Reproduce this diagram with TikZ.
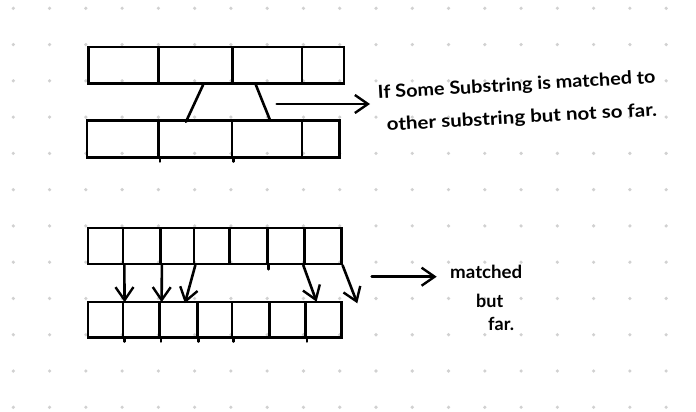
\documentclass[tikz,border=0pt]{standalone}
\usepackage{fontspec}
\setmainfont{Lato}
\usetikzlibrary{arrows.meta,calc}
\tikzset{
  cell/.style={draw=black, line width=2.6pt, inner sep=0pt, anchor=north west},
  conn/.style={draw=black, line width=2.6pt, line cap=round},
  arr/.style={conn, -{Straight Barb[length=13pt,width=18pt,line width=2.4pt]}},
  gdot/.style={fill=black!18},
  hand/.style={font=\fontsize{18}{21}\selectfont\bfseries, inner sep=0pt, anchor=base west}
}
\newcommand{\mkcell}[6]{% name, x1, y1, x2, y2
  \node[cell, minimum width={#4-#2}, minimum height={#5-#3}] (#1) at (#2,#3) {};}
\begin{document}
\begin{tikzpicture}[x=1pt,y=-1pt]
\useasboundingbox (0,0) rectangle (696,412);
% dot grid
\foreach \i in {0,...,18}{
  \foreach \j in {0,...,11}{
    \fill[gdot] (13.3+\i*36.27,8.3+\j*36.27) circle (1.8pt);
  }
}
% ---- top section ----
\mkcell{a1}{87.3}{45.7}{157.3}{82.3}{}
\mkcell{a2}{157.3}{45.7}{231}{82.3}{}
\mkcell{a3}{231}{45.7}{300.7}{82.3}{}
\mkcell{a4}{300.7}{45.7}{342.7}{82.3}{}
\mkcell{b1}{85.7}{119.3}{157.3}{156}{}
\mkcell{b2}{157.3}{119.3}{230.7}{156}{}
\mkcell{b3}{230.7}{119.3}{300.7}{156}{}
\mkcell{b4}{300.7}{119.3}{338.3}{156}{}
\draw[conn] ($(a2.south west)!0.60!(a2.south east)$) -- ($(b2.north west)!0.377!(b2.north east)+(0,2.5)$);
\draw[conn] ($(a3.south west)!0.344!(a3.south east)$) -- ($(b3.north west)!0.537!(b3.north east)$);
\coordinate (p1) at (276.7,104);
\coordinate (p2) at (370,104);
\draw[arr] (p1) -- (p2);
\node[hand, rotate=3.3] (t1) at (378,99) {\scalebox{1.1}[1]{If Some Substring is matched to}};
\node[hand, rotate=3.2] (t2) at (387,131) {\scalebox{1.14}[1]{other substring but not so far.}};
% ---- bottom section ----
\mkcell{c1}{86.7}{226.7}{121.7}{262.7}{}
\mkcell{c2}{121.7}{226.7}{159.3}{262.7}{}
\mkcell{c3}{159.3}{226.7}{192.7}{262.7}{}
\mkcell{c4}{192.7}{226.7}{228.3}{262.7}{}
\mkcell{c5}{228.3}{226.7}{266}{262.7}{}
\mkcell{c6}{266}{226.7}{303.3}{262.7}{}
\mkcell{c7}{303.3}{226.7}{340}{262.7}{}
\mkcell{d1}{86.7}{300.7}{121.7}{336}{}
\mkcell{d2}{121.7}{300.7}{158.3}{336}{}
\mkcell{d3}{158.3}{300.7}{196}{336}{}
\mkcell{d4}{196}{300.7}{230.7}{336}{}
\mkcell{d5}{230.7}{300.7}{268.3}{336}{}
\mkcell{d6}{268.3}{300.7}{304.3}{336}{}
\mkcell{d7}{304.3}{300.7}{340}{336}{}
% small ticks below dividers
\foreach \n in {c5}{\draw[conn] (\n.south east) -- ++(0,4);}
\foreach \n in {d1,d2,d3,d4,d6}{\draw[conn] (\n.south east) -- ++(0,3);}
\foreach \n in {b1,b2}{\draw[conn] (\n.south east) -- ++(0,3);}
\draw[arr] (c1.south east) -- ($(d1.north east)+(0.3,1.5)$);
\draw[arr] (c2.south east) -- ($(d2.north east)+(0.7,1.5)$);
\draw[arr] (c3.south east) -- ($(d3.north west)!0.66!(d3.north east)+(0,2.5)$);
\draw[arr] (c7.south west) -- ($(d7.north west)!0.32!(d7.north east)+(0,1)$);
\coordinate (p3) at (357.3,303.3);
\draw[arr] (c7.south east) -- (p3);
\coordinate (p4) at (371.7,276.7);
\coordinate (p5) at (436.7,276.7);
\draw[arr] (p4) -- (p5);
\node[hand] (m1) at (450,278) {\scalebox{1.04}[1]{matched}};
\node[hand] (m2) at (476,307) {but};
\node[hand] (m3) at (488,330) {far.};
\end{tikzpicture}
\end{document}
